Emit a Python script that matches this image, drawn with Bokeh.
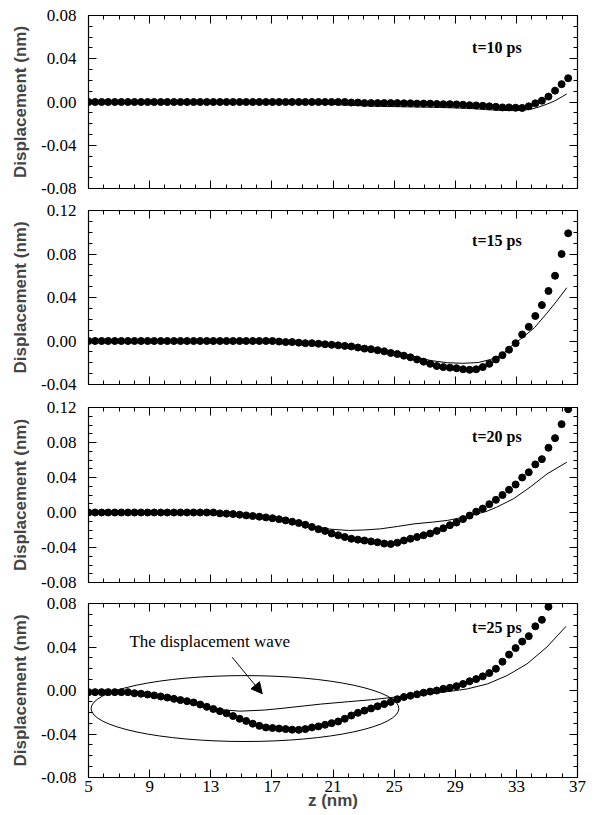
from bokeh.plotting import figure
from bokeh.models import (FixedTicker, LinearAxis, Range1d, Label, Arrow, NormalHead,
                          PrintfTickFormatter, CustomJSTickFormatter)
from bokeh.layouts import column
from bokeh.embed import file_html
from bokeh.resources import INLINE

# ---------------- data ----------------
z_dots = [5.00, 5.43, 5.86, 6.29, 6.72, 7.15, 7.58, 8.01, 8.44, 8.87,
          9.30, 9.73, 10.16, 10.59, 11.02, 11.45, 11.88, 12.31, 12.74, 13.17,
          13.60, 14.03, 14.46, 14.89, 15.32, 15.75, 16.18, 16.61, 17.04, 17.47,
          17.90, 18.33, 18.76, 19.19, 19.62, 20.05, 20.48, 20.91, 21.34, 21.77,
          22.20, 22.63, 23.06, 23.49, 23.92, 24.35, 24.78, 25.21, 25.64, 26.07,
          26.50, 26.93, 27.36, 27.79, 28.22, 28.65, 29.08, 29.51, 29.94, 30.37,
          30.80, 31.23, 31.66, 32.09, 32.52, 32.95, 33.38, 33.81, 34.24, 34.67,
          35.10, 35.53, 35.96, 36.39]

md_t10 = [0, 0, 0, 0, 0, 0, 0, 0, 0, 0,
          0, 0, 0, 0, 0, 0, 0, 0, 0, 0,
          0, 0, 0, 0, 0, 0, 0, 0, 0, 0,
          0, 0, 0, 0, 0, 0, 0, 0, 0, 0,
          -0.0005, -0.0005, -0.001, -0.001, -0.001, -0.001, -0.001, -0.001, -0.0012, -0.0012,
          -0.0015, -0.0015, -0.0015, -0.0018, -0.002, -0.002, -0.0022, -0.0025, -0.003, -0.0032,
          -0.0035, -0.004, -0.0045, -0.005, -0.005, -0.0053, -0.0055, -0.004, -0.0012, 0.0012,
          0.005, 0.0105, 0.0165, 0.022]

md_t15 = [0, 0, 0, 0, 0, 0, 0, 0, 0, 0,
          0, 0, 0, 0, 0, 0, 0, 0, 0, 0,
          0, 0, 0, 0, 0, 0, 0, 0, 0, -0.0005,
          -0.001, -0.001, -0.0015, -0.002, -0.002, -0.0025, -0.003, -0.0035, -0.004, -0.0045,
          -0.005, -0.006, -0.007, -0.0075, -0.0085, -0.0095, -0.011, -0.012, -0.0135, -0.015,
          -0.017, -0.019, -0.021, -0.023, -0.024, -0.0245, -0.025, -0.026, -0.0265, -0.026,
          -0.024, -0.021, -0.017, -0.013, -0.008, -0.002, 0.006, 0.013, 0.023, 0.033,
          0.046, 0.060, 0.080, 0.099]

md_t20 = [0, 0, 0, 0, 0, 0, 0, 0, 0, 0,
          0, 0, 0, 0, 0, 0, 0, 0, 0, 0,
          -0.001, -0.0013, -0.0018, -0.0025, -0.0033, -0.004, -0.0048, -0.0056, -0.0065, -0.0077,
          -0.009, -0.0105, -0.012, -0.014, -0.0165, -0.019, -0.021, -0.024, -0.026, -0.028,
          -0.030, -0.031, -0.032, -0.033, -0.034, -0.0355, -0.036, -0.0345, -0.032, -0.030,
          -0.028, -0.026, -0.024, -0.021, -0.018, -0.0145, -0.0115, -0.0075, -0.0035, 0.001,
          0.0045, 0.0095, 0.0145, 0.020, 0.026, 0.032, 0.040, 0.046, 0.055, 0.061,
          0.074, 0.085, 0.101, 0.118]

md_t25 = [-0.0015, -0.0015, -0.0015, -0.0015, -0.0015, -0.0015, -0.0015, -0.0025, -0.003, -0.0037,
          -0.0045, -0.0055, -0.0065, -0.0077, -0.0088, -0.0098, -0.011, -0.0129, -0.015, -0.017,
          -0.019, -0.021, -0.0235, -0.026, -0.028, -0.0305, -0.0325, -0.034, -0.0345, -0.035,
          -0.0355, -0.036, -0.0362, -0.0355, -0.034, -0.033, -0.0315, -0.030, -0.0285, -0.026,
          -0.023, -0.0205, -0.0185, -0.0165, -0.0145, -0.0125, -0.0105, -0.008, -0.006, -0.0048,
          -0.0035, -0.002, -0.001, 0.0, 0.0015, 0.0025, 0.004, 0.006, 0.0085, 0.0105,
          0.013, 0.016, 0.020, 0.0265, 0.033, 0.039, 0.045, 0.050, 0.059, 0.065,
          0.077]

cz_t10 = [5, 10, 15, 18, 20, 22, 24, 26, 28, 30, 31, 32, 33, 33.5, 34, 34.5, 35, 35.5, 36, 36.3]
cv_t10 = [0, 0, 0, -0.0005, -0.0015, -0.003, -0.004, -0.0045, -0.005, -0.006, -0.007, -0.0078,
          -0.008, -0.0075, -0.0065, -0.0045, -0.002, 0.001, 0.005, 0.0075]

cz_t15 = [5, 15, 17, 19, 21, 23, 24.2, 25.5, 26.5, 27.4, 28.5, 29.5, 30.5, 31.3, 32, 32.8,
          33.4, 34.2, 35, 35.6, 36.3]
cv_t15 = [0, 0, -0.0005, -0.002, -0.004, -0.0065, -0.008, -0.011, -0.015, -0.018, -0.020,
          -0.0205, -0.0198, -0.017, -0.0133, -0.003, 0.003, 0.0125, 0.0256, 0.036, 0.049]

cz_t20 = [5, 12, 13.5, 15, 16.5, 18, 19.5, 20.8, 22, 23, 24.1, 25.2, 26.3, 27.5, 28.5, 29.5,
          30.3, 31, 31.7, 32.8, 33.9, 35, 36.3]
cv_t20 = [0, 0, -0.001, -0.003, -0.0055, -0.0095, -0.015, -0.019, -0.0205, -0.020, -0.0187,
          -0.016, -0.013, -0.011, -0.009, -0.0055, -0.002, 0.001, 0.006, 0.0156, 0.029, 0.044, 0.0575]

cz_t25 = [5, 8, 10, 12, 13.6, 14.9, 16.5, 17.6, 18.9, 20.2, 22, 23.5, 24.8, 26, 27.6, 28.8,
          29.8, 31.1, 32.4, 33.7, 35.0, 36.25]
cv_t25 = [-0.0015, -0.0028, -0.0058, -0.011, -0.0175, -0.019, -0.018, -0.0165, -0.0145, -0.0125,
          -0.0103, -0.0085, -0.0065, -0.0045, -0.0025, -0.0005, 0.0015, 0.006, 0.0138, 0.0245,
          0.040, 0.059]

time_labels = ["t=10 ps", "t=15 ps", "t=20 ps", "t=25 ps"]
x_ticks = [5, 9, 13, 17, 21, 25, 29, 33, 37]
y_ranges = [(-0.08, 0.08), (-0.04, 0.12), (-0.08, 0.12), (-0.08, 0.08)]
y_ticks = [[-0.08, -0.04, 0.0, 0.04, 0.08],
           [-0.04, 0.0, 0.04, 0.08, 0.12],
           [-0.08, -0.04, 0.0, 0.04, 0.08, 0.12],
           [-0.08, -0.04, 0.0, 0.04, 0.08]]

# annotation (panel 4)
ann_text = "The displacement wave"
ell_cx, ell_cy, ell_w, ell_h = 15.24, -0.0166, 20.14, 0.0606
arr_x0, arr_y0, arr_x1, arr_y1 = 14.4, 0.0306, 16.37, -0.003
label_y = [0.0507, 0.0924, 0.0869, 0.058]

SERIF = "Liberation Serif"
SANS = "Liberation Sans"
BLANK = CustomJSTickFormatter(code="return ''")


def style_axis(ax, show_labels, standoff=12):
    ax.axis_line_color = "black"
    ax.axis_line_width = 1.2
    ax.major_tick_in = 8
    ax.major_tick_out = 0
    ax.minor_tick_in = 4
    ax.minor_tick_out = 0
    ax.major_tick_line_color = "black"
    ax.minor_tick_line_color = "black"
    ax.major_label_text_font = SERIF
    ax.major_label_text_color = "black"
    ax.major_label_text_font_size = "17px"
    if show_labels:
        ax.major_label_standoff = standoff
    else:
        ax.formatter = BLANK
        ax.major_label_standoff = 0


def make_panel(k, dz, dv, lz, lv, height, top, bottom, show_x):
    ymin, ymax = y_ranges[k]
    p = figure(width=592, height=height, x_range=Range1d(5, 37), y_range=Range1d(ymin, ymax),
               output_backend="svg", toolbar_location=None,
               min_border_left=88, min_border_right=15,
               min_border_top=top, min_border_bottom=bottom)
    p.xgrid.visible = False
    p.ygrid.visible = False
    p.outline_line_color = "black"

    xt = FixedTicker(ticks=x_ticks, minor_ticks=list(range(5, 38)))
    nminor = int(round((ymax - ymin) / 0.01))
    yt = FixedTicker(ticks=y_ticks[k],
                     minor_ticks=[round(ymin + 0.01 * i, 3) for i in range(nminor + 1)])

    p.xaxis.ticker = xt
    p.yaxis.ticker = yt
    style_axis(p.xaxis[0], show_x, standoff=3)
    style_axis(p.yaxis[0], True, standoff=12)
    p.yaxis.formatter = PrintfTickFormatter(format="%.2f")
    p.yaxis.axis_label = "Displacement (nm)"
    p.yaxis.axis_label_text_font = SANS
    p.yaxis.axis_label_text_font_style = "bold"
    p.yaxis.axis_label_text_font_size = "17px"
    p.yaxis.axis_label_standoff = 8
    if show_x:
        p.xaxis.axis_label = "z (nm)"
        p.xaxis.axis_label_text_font = SANS
        p.xaxis.axis_label_text_font_style = "bold"
        p.xaxis.axis_label_text_font_size = "17px"
        p.xaxis.axis_label_standoff = -4

    top_ax = LinearAxis(ticker=xt)
    style_axis(top_ax, False)
    p.add_layout(top_ax, "above")
    right_ax = LinearAxis(ticker=yt)
    style_axis(right_ax, False)
    p.add_layout(right_ax, "right")

    p.line(lz, lv, line_color="black", line_width=1)
    p.scatter(dz, dv, size=7, color="black")

    p.add_layout(Label(x=30.1, y=label_y[k], text=time_labels[k], text_baseline="middle",
                       text_font=SERIF, text_font_style="bold", text_font_size="16px",
                       text_color="black"))
    return p


p1 = make_panel(0, z_dots, md_t10, cz_t10, cv_t10, 199, 15, 11, False)
p2 = make_panel(1, z_dots, md_t15, cz_t15, cv_t15, 197, 11, 12, False)
p3 = make_panel(2, z_dots, md_t20, cz_t20, cv_t20, 196, 11, 10, False)
p4 = make_panel(3, z_dots[:len(md_t25)], md_t25, cz_t25, cv_t25, 223, 11, 38, True)

p4.ellipse(x=[ell_cx], y=[ell_cy], width=[ell_w], height=[ell_h], fill_alpha=0,
           line_color="black", line_width=1)
p4.add_layout(Arrow(end=NormalHead(size=11, fill_color="black", line_color="black"),
                    x_start=arr_x0, y_start=arr_y0, x_end=arr_x1, y_end=arr_y1,
                    line_color="black", line_width=1))
p4.add_layout(Label(x=7.68, y=0.045, text=ann_text, text_baseline="middle",
                    text_font=SERIF, text_font_size="17px", text_color="black"))

layout = column(p1, p2, p3, p4, spacing=0)
open("out.html", "w").write(file_html(layout, INLINE))
